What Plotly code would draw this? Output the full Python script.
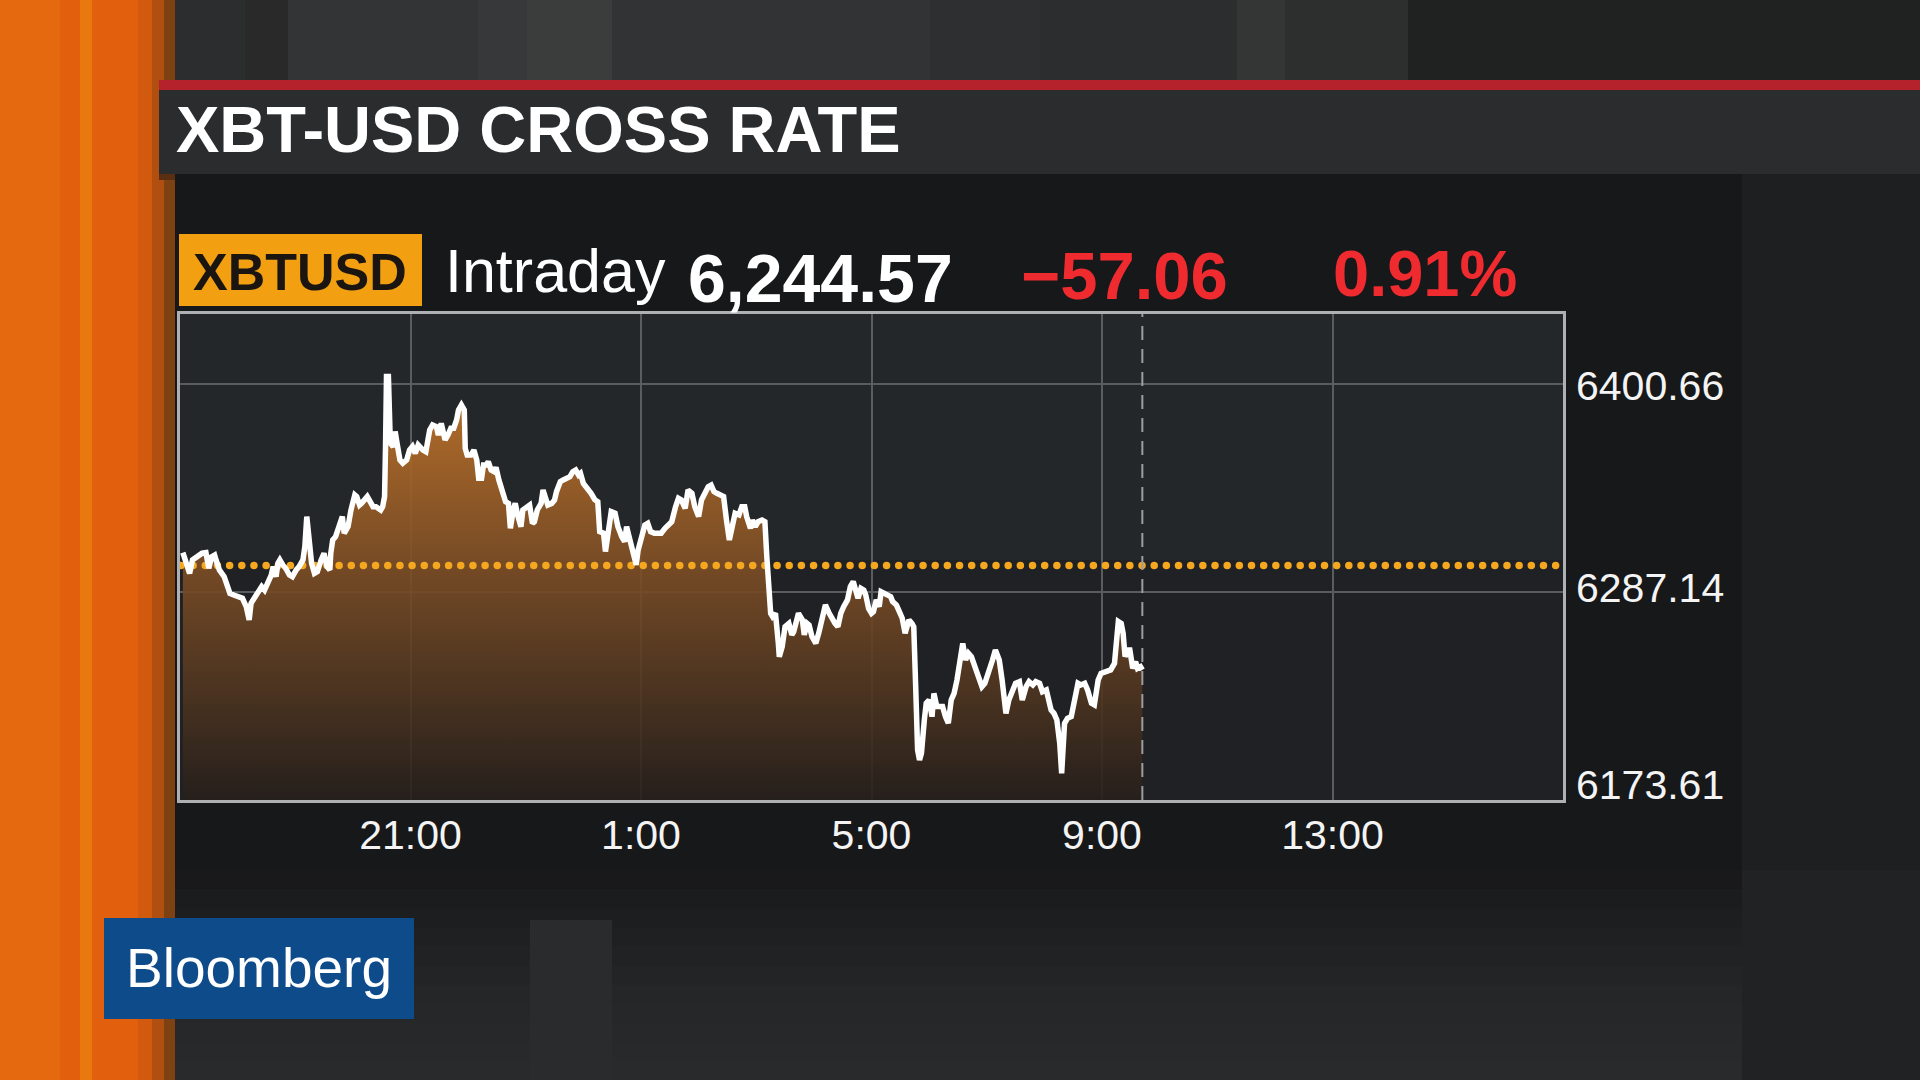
import pandas as pd
import plotly.graph_objects as go

# ---------------- data ----------------
# minutes after the 17:00 session start, and XBT-USD price
minutes = [3, 8, 10, 13, 16, 20, 23, 27, 29, 30, 33, 36, 37, 41, 46, 49, 52, 56, 62, 65,
           69, 72, 74, 77, 81, 85, 88, 91, 95, 97, 100, 102, 104, 107, 110, 114, 117, 121, 124, 128,
           130, 132, 135, 137, 140, 143, 147, 150, 153, 156, 157, 159, 162, 166, 169, 171, 175, 178, 182, 184,
           187, 189, 192, 195, 197, 201, 204, 207, 209, 211, 213, 214, 215, 217, 219, 222, 224, 226, 229, 232,
           236, 239, 242, 245, 248, 253, 256, 260, 263, 267, 269, 272, 276, 279, 282, 285, 288, 290, 293, 296,
           297, 299, 303, 306, 309, 311, 314, 316, 319, 321, 324, 327, 329, 332, 335, 339, 342, 344, 347, 349,
           352, 355, 357, 361, 364, 367, 369, 372, 376, 378, 381, 383, 387, 390, 392, 396, 399, 403, 406, 409,
           412, 415, 417, 420, 423, 428, 432, 435, 437, 441, 443, 446, 449, 453, 456, 460, 463, 465, 469, 472,
           475, 477, 481, 484, 487, 490, 494, 497, 501, 505, 509, 512, 516, 519, 522, 526, 529, 533, 536, 540,
           543, 547, 550, 553, 556, 559, 562, 566, 569, 572, 575, 578, 582, 585, 588, 590, 594, 596, 599, 602,
           606, 609, 611, 613, 615, 617, 620, 623, 624, 627, 630, 634, 637, 639, 641, 644, 648, 650, 653, 655,
           658, 662, 665, 669, 672, 676, 679, 682, 685, 688, 691, 695, 698, 701, 703, 706, 709, 712, 714, 717,
           720, 722, 725, 728, 730, 733, 736, 740, 742, 746, 749, 752, 755, 759, 762, 764, 766, 768, 770, 772,
           775, 777, 780, 783, 785, 788, 790, 794, 797, 800, 803, 806, 809, 813, 815, 818, 821, 824, 828, 831,
           835, 838, 842, 846, 849, 853, 856, 860, 863, 867, 870, 874, 877, 881, 884, 888, 891, 895, 898, 902,
           904, 907, 910, 913, 916, 918, 921, 924, 928, 931, 935, 938, 942, 945, 949, 952, 956, 959, 963, 966,
           969, 973, 975, 977, 980, 982, 984, 987, 989, 992, 995, 997, 1000, 1002]
prices = [6308.6, 6299.2, 6297.3, 6304.6, 6305.5, 6307.3, 6308.3, 6308.6, 6304.6, 6300.1, 6306.4, 6307.3, 6305.5, 6299.2, 6295.5, 6290.1, 6286.4, 6285.5, 6284.2, 6283.7,
          6279.1, 6271.9, 6281.0, 6283.7, 6286.4, 6290.1, 6288.2, 6291.9, 6296.4, 6301.0, 6295.5, 6302.8, 6304.6, 6301.9, 6300.1, 6296.4, 6295.5, 6299.2, 6301.0, 6304.6,
          6311.9, 6328.3, 6311.9, 6302.8, 6297.3, 6298.2, 6304.6, 6308.3, 6301.0, 6299.2, 6308.3, 6315.5, 6317.3, 6324.6, 6328.3, 6319.2, 6322.8, 6331.9, 6340.1, 6339.2,
          6334.6, 6335.5, 6337.4, 6339.2, 6337.4, 6333.7, 6333.7, 6332.8, 6331.9, 6333.7, 6339.2, 6366.5, 6404.7, 6404.7, 6368.3, 6366.5, 6374.7, 6368.3, 6359.2, 6357.4,
          6359.2, 6364.6, 6366.5, 6362.8, 6367.4, 6364.6, 6363.7, 6375.6, 6378.3, 6377.4, 6372.8, 6379.2, 6370.1, 6372.8, 6376.5, 6376.5, 6381.0, 6386.5, 6389.2, 6386.5,
          6365.5, 6361.9, 6361.9, 6364.6, 6359.2, 6349.2, 6349.2, 6356.5, 6356.5, 6358.3, 6353.7, 6352.8, 6355.2, 6348.3, 6341.9, 6336.4, 6335.5, 6321.9, 6331.9, 6335.5,
          6328.3, 6322.8, 6331.9, 6333.7, 6334.6, 6324.6, 6325.5, 6331.9, 6335.5, 6342.8, 6337.4, 6334.6, 6335.5, 6337.4, 6341.9, 6347.4, 6348.3, 6349.2, 6350.1, 6352.8,
          6353.7, 6351.0, 6351.9, 6346.4, 6344.6, 6341.0, 6337.4, 6336.4, 6320.1, 6319.2, 6309.2, 6319.2, 6331.0, 6330.1, 6322.8, 6317.3, 6314.6, 6322.8, 6313.7, 6306.4,
          6301.9, 6310.1, 6318.2, 6323.7, 6324.6, 6320.1, 6319.2, 6319.2, 6319.2, 6321.9, 6324.6, 6325.5, 6333.7, 6338.3, 6337.4, 6332.8, 6342.8, 6341.0, 6333.7, 6328.3,
          6337.4, 6341.0, 6344.6, 6345.5, 6341.9, 6341.0, 6340.1, 6339.2, 6326.4, 6315.5, 6322.8, 6330.1, 6329.2, 6333.7, 6333.7, 6328.3, 6321.9, 6326.4, 6322.8, 6325.5,
          6326.4, 6325.5, 6306.4, 6290.1, 6275.5, 6273.7, 6275.5, 6259.1, 6251.8, 6257.3, 6268.2, 6270.0, 6263.7, 6265.5, 6270.0, 6275.5, 6271.9, 6263.7, 6270.0, 6269.1,
          6262.8, 6259.1, 6264.6, 6273.7, 6280.1, 6275.5, 6271.9, 6270.0, 6268.2, 6275.5, 6279.1, 6282.8, 6290.1, 6292.8, 6289.1, 6283.7, 6289.1, 6288.2, 6285.5, 6278.2,
          6275.5, 6276.4, 6282.8, 6279.1, 6287.3, 6286.4, 6285.5, 6284.6, 6281.9, 6280.0, 6276.4, 6272.8, 6264.6, 6271.9, 6270.0, 6268.2, 6235.5, 6200.9, 6195.4, 6199.1,
          6217.3, 6226.4, 6228.2, 6219.1, 6231.8, 6224.6, 6224.6, 6224.6, 6219.1, 6215.5, 6228.2, 6231.8, 6239.1, 6250.0, 6259.1, 6250.0, 6253.7, 6251.9, 6246.4, 6242.7,
          6235.5, 6237.3, 6242.7, 6250.0, 6255.5, 6250.0, 6239.1, 6220.9, 6228.2, 6233.7, 6237.3, 6238.2, 6228.2, 6235.5, 6238.2, 6236.4, 6238.2, 6237.3, 6232.7, 6233.7,
          6230.0, 6222.7, 6220.9, 6217.3, 6204.5, 6188.2, 6215.5, 6218.2, 6219.1, 6228.2, 6237.3, 6236.4, 6237.3, 6233.7, 6226.4, 6225.5, 6239.1, 6242.7, 6243.7, 6243.7,
          6244.6, 6248.2, 6259.1, 6271.0, 6270.0, 6264.6, 6251.9, 6255.5, 6255.5, 6245.5, 6249.1, 6245.5, 6246.4, 6244.57]

prev_close = 6301.63
last_price = 6244.57
net_change = -57.06
pct_change = 0.91
ticker = "XBTUSD"
period_label = "Intraday"
title_text = "XBT-USD CROSS RATE"
brand = "Bloomberg"

y_tick_values = [6400.66, 6287.14, 6173.61]
y_axis_top = 6438.86
x_tick_labels = ["21:00", "1:00", "5:00", "9:00", "13:00"]
x_tick_hours = [4, 8, 12, 16, 20]   # hours after session start

# ---------------- derived ----------------
session_start = pd.Timestamp("2018-09-10 17:00")
session_end = session_start + pd.Timedelta(hours=24)
times = session_start + pd.to_timedelta(minutes, unit="m")
tick_times = [session_start + pd.Timedelta(hours=h) for h in x_tick_hours]
dot_times = pd.date_range(session_start + pd.Timedelta(minutes=1), session_end, freq="12min40s")

# ---------------- geometry helpers ----------------
W, H = 1920, 1080
ML, MR, MT, MB = 180, 357, 314, 280
PW = W - ML - MR
PH = H - MT - MB


def X(px):
    return (px - ML) / PW


def Y(py):
    return (H - MB - py) / PH


shapes = []


def rect(x0, y0, x1, y1, color, layer="below"):
    shapes.append(dict(type="rect", xref="paper", yref="paper",
                       x0=X(x0), x1=X(x1), y0=Y(y1), y1=Y(y0),
                       fillcolor=color, line=dict(width=0), layer=layer))


# top band with vertical stripes
rect(175, 0, 1920, 82, "#2c2d2e")
rect(245, 0, 288, 82, "#29292a")
rect(288, 0, 478, 82, "#333435")
rect(478, 0, 527, 82, "#373839")
rect(527, 0, 612, 82, "#3b3c3c")
rect(612, 0, 930, 82, "#323334")
rect(930, 0, 1040, 82, "#2e2f30")
rect(1237, 0, 1285, 82, "#343535")
rect(1285, 0, 1408, 82, "#2d2e2e")
rect(1408, 0, 1920, 82, "#202121")
# right column
rect(1742, 174, 1920, 1080, "#1e1f20")
# chart panel
rect(175, 174, 1742, 870, "#17181a")
lower = ["#19191b", "#1b1c1d", "#1d1e1f", "#1f2021", "#212223", "#232425", "#252627",
         "#262728", "#27282a", "#28292a", "#292a2b"]
step = 210 / len(lower)
for i, c in enumerate(lower):
    rect(175, 870 + i * step, 1742, 870 + (i + 1) * step + 1, c)
rect(530, 920, 612, 1080, "#2a2b2c")
rect(1742, 870, 1920, 1080, "#212223")
# left orange strip
rect(0, 0, 175, 1080, "#e2600d")
rect(0, 0, 60, 1080, "#e4690f")
rect(80, 0, 92, 1080, "#e9790f")
rect(138, 0, 152, 1080, "#d25a0e")
rect(152, 0, 164, 1080, "#b04f10")
rect(164, 0, 175, 1080, "#7e4212")
# title bar
rect(159, 80, 1920, 90, "#b5222b")
rect(159, 90, 1920, 174, "#2a2c2e")
rect(159, 174, 175, 180, "#5a2e10")
# plot background
rect(180, 314, 1563, 560, "#24272a")
rect(180, 560, 1563, 800, "#1f2124")
# ticker box and logo box
rect(179, 234, 422, 306, "#f2a012")
rect(104, 918, 414, 1019, "#0e4b8a")

# dashed marker at the last data time
shapes.append(dict(type="line", xref="x", yref="paper", x0=times[-1], x1=times[-1], y0=0, y1=1,
                   line=dict(color="#9c9d9e", width=2, dash="14px,9px"), layer="above"))

# ---------------- traces ----------------
fig = go.Figure()
fig.add_trace(go.Scatter(
    x=times, y=prices, mode="lines", line=dict(width=0, color="rgba(0,0,0,0)"),
    fill="tozeroy",
    fillgradient=dict(type="vertical",
                      colorscale=[[0, "rgba(38,31,27,0.9)"], [0.5, "rgba(118,74,36,0.9)"],
                                  [1, "rgba(198,118,42,0.93)"]],
                      start=y_tick_values[-1], stop=max(prices)),
    hoverinfo="skip", showlegend=False))
fig.add_trace(go.Scatter(
    x=dot_times, y=[prev_close] * len(dot_times), mode="markers",
    marker=dict(size=7.5, color="#f4a71f", line=dict(width=0)),
    hoverinfo="skip", showlegend=False))
fig.add_trace(go.Scatter(
    x=times, y=prices, mode="lines", line=dict(color="#ffffff", width=5.5),
    showlegend=False))

# ---------------- annotations ----------------
BASE = "Liberation Sans, Arial, sans-serif"
ann = []


def text(px, py, s, size, color, weight="normal", family=BASE, xanchor="left"):
    ann.append(dict(xref="paper", yref="paper", x=X(px), y=Y(py), text=s, showarrow=False,
                    xanchor=xanchor, yanchor="middle",
                    font=dict(family=family, size=size, color=color, weight=weight)))


text(174, 129, title_text, 65, "#ffffff", "bold")
text(300, 272, ticker, 52, "#1a1510", "bold", xanchor="center")
text(443, 271, period_label, 61, "#ffffff")
text(686, 278, f"{last_price:,.2f}", 68, "#ffffff", "bold")
text(1019, 275, f"\u2212{abs(net_change):.2f}", 67, "#ef2b30", "bold")
text(1331, 274, f"{pct_change:.2f}%", 65, "#ef2b30", "bold")
text(124, 968, brand, 55, "#ffffff")

label_shift = [-2, 4, 15]
for v, sh in zip(y_tick_values, label_shift):
    ann.append(dict(xref="paper", yref="y", x=X(1574), y=v, text=f"{v:.2f}", showarrow=False,
                    xanchor="left", yanchor="middle", yshift=sh,
                    font=dict(family=BASE, size=41, color="#f4f4f4")))

axis_common = dict(showgrid=True, gridcolor="#5a5d60", gridwidth=1.5, zeroline=False,
                   showline=True, mirror=True, linecolor="#aeb0b1", linewidth=3, ticks="")

fig.update_layout(
    width=W, height=H, autosize=False,
    margin=dict(l=ML, r=MR, t=MT, b=MB, pad=0),
    paper_bgcolor="#262728", plot_bgcolor="rgba(0,0,0,0)",
    showlegend=False, hovermode=False,
    shapes=shapes, annotations=ann,
    xaxis=dict(type="date", range=[session_start, session_end], tickvals=tick_times,
               ticktext=x_tick_labels, tickfont=dict(family=BASE, size=41, color="#f4f4f4"),
               ticklabelstandoff=-3, **axis_common),
    yaxis=dict(range=[y_tick_values[-1], y_axis_top], tickvals=y_tick_values,
               showticklabels=False, side="right", **axis_common),
)

fig.write_html("out.html")
